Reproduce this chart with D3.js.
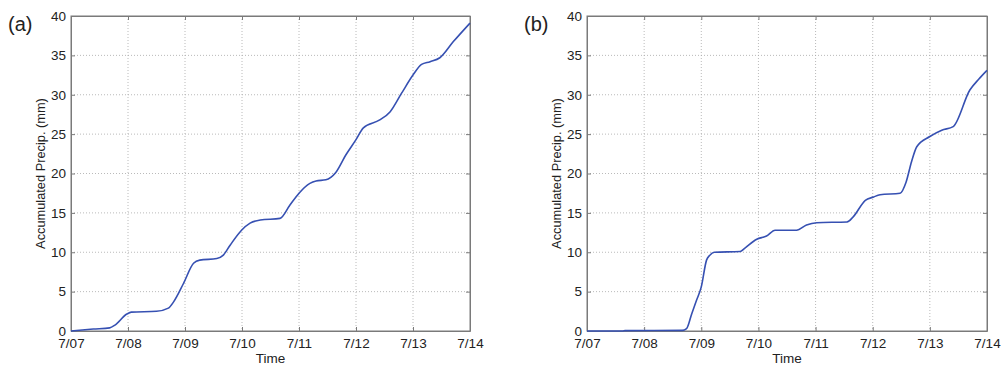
<!DOCTYPE html>
<html lang="en">
<head>
<meta charset="UTF-8">
<title>Accumulated Precip.</title>
<script src="https://d3js.org/d3.v7.min.js"></script>
<style>
  body { margin: 0; background: #fff; }
  svg { display: block; }
  text { font-family: "Liberation Sans", Arial, sans-serif; fill: #222; }
</style>
</head>
<body>
<svg width="1005" height="365"></svg>
<script>
// hours after 7/07 00:00 and accumulated precip (mm)
const hoursA = [0, 9.4, 16.3, 18.5, 23.5, 25.4, 36, 41, 43.2, 47.3, 51.6, 54.2, 61.4, 64, 67, 71.8, 75.4, 79.7, 88, 92.2, 96, 100.6, 103.2, 107.3, 111.4, 115.7, 120, 123.1, 130, 134.4, 139.2, 144, 147.6, 151.2, 155.3, 161, 168]
const precipA = [0, 0.25, 0.4, 0.75, 2.15, 2.4, 2.5, 2.9, 3.7, 6.0, 8.6, 9.0, 9.2, 9.6, 10.9, 12.8, 13.7, 14.1, 14.3, 16.0, 17.5, 18.75, 19.05, 19.2, 20.1, 22.35, 24.3, 25.8, 26.8, 27.85, 30.2, 32.5, 33.85, 34.2, 34.7, 36.75, 39.1]

const hoursB = [0, 15, 16, 40, 41.8, 44, 46, 48, 50.2, 51.5, 53.5, 64.3, 66.2, 71.3, 75.4, 79, 88, 92.2, 96.5, 109.2, 111.8, 116.9, 120.2, 123.1, 131.5, 134, 136.3, 138.5, 144, 149, 153.8, 160.8, 164.6, 168]
const precipB = [0, 0, 0.05, 0.08, 0.3, 2.2, 3.9, 5.6, 9.0, 9.6, 10.0, 10.1, 10.5, 11.65, 12.06, 12.8, 12.8, 13.46, 13.75, 13.85, 14.5, 16.6, 17.0, 17.3, 17.5, 18.9, 21.5, 23.4, 24.7, 25.5, 25.95, 30.6, 32.0, 33.1]

const yTicks = [0, 5, 10, 15, 20, 25, 30, 35, 40]
const panelLabels = ["(a)", "(b)"]

const start = new Date(2013, 6, 7)
const toDate = h => new Date(start.getTime() + h * 3600 * 1000)

const svg = d3.select("svg")
const plotTop = 16, plotBottom = 331
const panels = [
  {left: 71, right: 470, hours: hoursA, vals: precipA, label: panelLabels[0], labelX: 8},
  {left: 587, right: 987, hours: hoursB, vals: precipB, label: panelLabels[1], labelX: 524}
]

panels.forEach(p => {
  const x = d3.scaleTime().domain([start, toDate(168)]).range([p.left, p.right])
  const y = d3.scaleLinear().domain([0, 40]).range([plotBottom, plotTop])
  const xTicks = d3.timeDay.range(start, toDate(169))
  const g = svg.append("g")

  // grid
  g.selectAll(".gx").data(xTicks.slice(1, -1)).enter().append("line")
    .attr("x1", d => x(d)).attr("x2", d => x(d))
    .attr("y1", plotTop).attr("y2", plotBottom)
    .attr("stroke", "#a8a8a8").attr("stroke-width", 0.8).attr("stroke-dasharray", "1,2")
  g.selectAll(".gy").data(yTicks.slice(1, -1)).enter().append("line")
    .attr("x1", p.left).attr("x2", p.right)
    .attr("y1", d => y(d)).attr("y2", d => y(d))
    .attr("stroke", "#a8a8a8").attr("stroke-width", 0.8).attr("stroke-dasharray", "1,2")

  // axes (ticks inward)
  const fmt = d3.timeFormat("%-m/%d")
  g.append("g").attr("transform", `translate(0,${plotBottom})`)
    .call(d3.axisBottom(x).tickValues(xTicks).tickFormat(fmt).tickSizeInner(-4).tickSizeOuter(0).tickPadding(7))
  g.append("g").attr("transform", `translate(0,${plotTop})`)
    .call(d3.axisTop(x).tickValues(xTicks).tickFormat("").tickSizeInner(-4).tickSizeOuter(0))
  g.append("g").attr("transform", `translate(${p.left},0)`)
    .call(d3.axisLeft(y).tickValues(yTicks).tickSizeInner(-4).tickSizeOuter(0).tickPadding(5))
  g.append("g").attr("transform", `translate(${p.right},0)`)
    .call(d3.axisRight(y).tickValues(yTicks).tickFormat("").tickSizeInner(-4).tickSizeOuter(0))
  g.selectAll(".domain").attr("stroke", "#7a7a7a")
  g.selectAll(".tick line").attr("stroke", "#7a7a7a")
  g.selectAll(".tick text").attr("font-size", 13.5).attr("fill", "#222")
    .attr("font-family", "'Liberation Sans', Arial, sans-serif")

  // frame
  g.append("rect").attr("x", p.left).attr("y", plotTop)
    .attr("width", p.right - p.left).attr("height", plotBottom - plotTop)
    .attr("fill", "none").attr("stroke", "#7a7a7a")

  // line
  const line = d3.line()
    .x((d, i) => x(toDate(p.hours[i])))
    .y(d => y(d))
    .curve(d3.curveMonotoneX)
  g.append("path").datum(p.vals).attr("d", line)
    .attr("fill", "none").attr("stroke", "#3650b2").attr("stroke-width", 1.6)

  // labels
  g.append("text").attr("x", (p.left + p.right) / 2).attr("y", 363)
    .attr("text-anchor", "middle").attr("font-size", 13.5).text("Time")
  g.append("text")
    .attr("transform", `translate(${p.left - 26},${(plotTop + plotBottom) / 2}) rotate(-90)`)
    .attr("text-anchor", "middle").attr("font-size", 12.8).text("Accumulated Precip. (mm)")
  g.append("text").attr("x", p.labelX).attr("y", 31)
    .attr("font-size", 20).attr("font-family", "'DejaVu Sans', sans-serif").text(p.label)
})
</script>
</body>
</html>
